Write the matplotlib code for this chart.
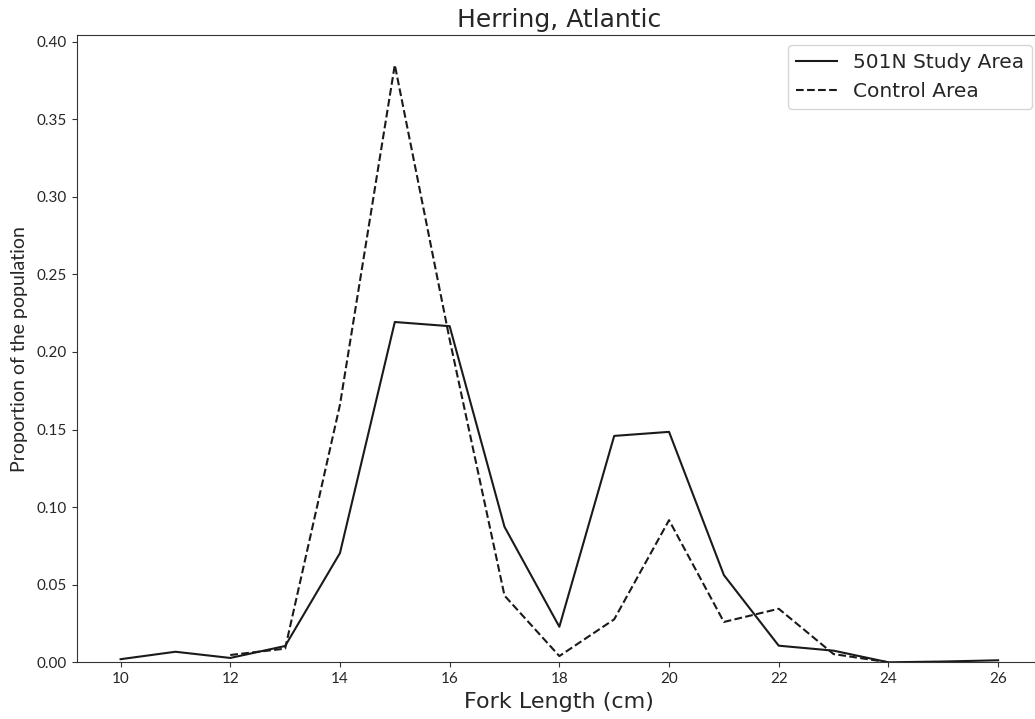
import matplotlib
matplotlib.use("Agg")
import matplotlib.pyplot as plt

# fork length bins (cm)
lengths = [10, 11, 12, 13, 14, 15, 16, 17, 18, 19, 20, 21, 22, 23, 24, 25, 26]
study_prop = [0.002, 0.0068, 0.0028, 0.0105, 0.0704, 0.2193, 0.2166, 0.0873, 0.0229,
              0.1459, 0.1485, 0.0562, 0.0107, 0.0075, 0.0, 0.0005, 0.0013]

control_lengths = [12, 13, 14, 15, 16, 17, 18, 19, 20, 21, 22, 23, 24]
control_prop = [0.0047, 0.0088, 0.166, 0.385, 0.208, 0.043, 0.004, 0.0277,
                0.0916, 0.026, 0.0345, 0.0053, 0.0]

tick_font = "Lato"
text_col = "#262626"

W, H = 1035, 719
fig = plt.figure(figsize=(W / 100, H / 100), dpi=100)
ax = fig.add_axes([76.7 / W, 1 - 662.3 / H, (1042 - 76.7) / W, (662.3 - 35) / H])

ax.plot(lengths, study_prop, color="#1a1a1a", lw=1.5, label="501N Study Area")
ax.plot(control_lengths, control_prop, color="#1a1a1a", lw=1.5, ls="--", label="Control Area")
ax.set_ylim(bottom=0)
ax.set_xticks(range(10, 27, 2))

for s in ax.spines.values():
    s.set_color("#333333")
ax.tick_params(colors="#333333", labelcolor=text_col)
for lab in ax.get_xticklabels():
    lab.set_fontfamily(tick_font)
    lab.set_fontsize(11)
ax.set_yticklabels(["%.2f" % t for t in ax.get_yticks()], fontfamily=tick_font, fontsize=11)

ax.set_title("Herring, Atlantic", fontsize=18, color=text_col)
ax.set_xlabel("Fork Length (cm)", fontsize=16, color=text_col, labelpad=4)
ax.set_ylabel("Proportion of the population", fontsize=14, fontfamily=tick_font,
              color=text_col, labelpad=6)
leg = ax.legend(fontsize=14.5, loc="upper right")
for t in leg.get_texts():
    t.set_color(text_col)

fig.savefig("out.png", dpi=100)
